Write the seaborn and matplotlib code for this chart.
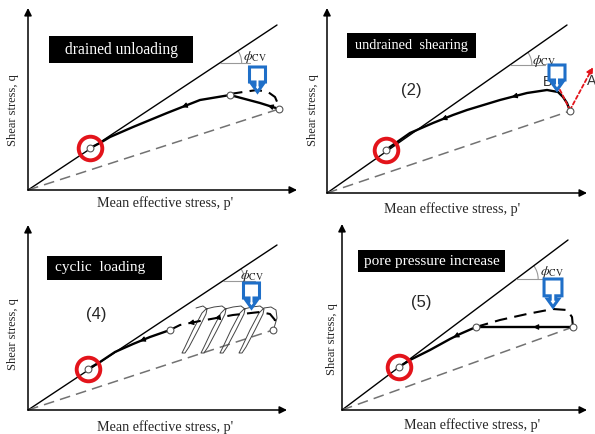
import numpy as np
import pandas as pd
import matplotlib
matplotlib.use("Agg")
import matplotlib.pyplot as plt
from matplotlib.patches import Arc, Polygon, Rectangle
import seaborn as sns

# --- data (p', q in pixel-like units, origin at axes corner) ---
# panel 1: drained unloading
csl1 = [(0, 0), (249, 165)]
ref1 = [(0, 0), (251, 81)]
solid1_x = [251, 232, 202, 172, 139, 105, 82, 72, 62]
solid1_y = [81, 87, 95, 90, 77, 63, 53, 47, 42]
dash1_x = [202, 215, 229, 240, 247, 250, 251]
dash1_y = [96, 98, 100, 98, 93, 86, 81]
pts1_x = [202, 251]
pts1_y = [95, 81]
fail1 = (62, 42)

# panel 2: undrained shearing
csl2 = [(0, 0), (240, 168)]
ref2 = [(0, 0), (243, 82)]
solid2_x = [243, 240, 236, 231, 220, 200, 173, 140, 126, 106, 83, 73, 63, 59]
solid2_y = [82, 90, 96, 101, 103, 100, 93, 83, 78, 70, 60, 53, 46, 43]
pts2_x = [243]
pts2_y = [82]
fail2 = (59, 43)
pathA = [(243, 83), (266, 126)]
pathB = [(243, 83), (224, 121)]

# panel 3: cyclic loading
csl3 = [(0, 0), (249, 165)]
ref3 = [(0, 0), (245, 80)]
solid3_x = [142, 122, 105, 87, 72, 60]
solid3_y = [80, 73, 66, 58, 48, 41]
dash3_x = [142, 152, 172, 205, 232, 242, 247, 245]
dash3_y = [80, 85, 89, 95, 98, 96, 90, 80]
loop_x = [246, 249, 248, 243, 236, 231, 222, 214, 211, 214, 218, 227, 235, 236, 232, 224,
          216, 212, 203, 195, 192, 195, 199, 208, 216, 217, 213, 205, 197, 193, 184, 176,
          173, 176, 180, 189, 197, 198, 194, 186, 178, 174, 165, 157, 154, 157, 161, 170,
          178, 179, 175, 168]
loop_y = [82, 92, 100, 103, 102, 97, 80, 63, 57, 57, 63, 80, 96, 101, 104, 103,
          101, 97, 80, 63, 57, 57, 63, 80, 96, 101, 104, 103, 101, 97, 80, 63,
          57, 57, 63, 80, 96, 101, 104, 103, 101, 97, 80, 63, 57, 57, 63, 80,
          96, 101, 104, 102]
pts3_x = [142, 245]
pts3_y = [80, 80]
fail3 = (60, 41)

# panel 4: pore pressure increase
csl4 = [(0, 0), (226, 170)]
ref4 = [(0, 0), (231, 83)]
solid4_x = [231, 191, 134, 118, 108, 88, 68, 57]
solid4_y = [83, 83, 83, 76, 71, 60, 50, 43]
dash4_x = [134, 158, 185, 211, 225, 230, 231]
dash4_y = [83, 90, 96, 101, 100, 93, 83]
pts4_x = [134, 231]
pts4_y = [83, 83]
fail4 = (57, 43)

titles = ["drained unloading", "undrained  shearing", "cyclic  loading", "pore pressure increase"]
title_sizes = [11.2, 10.4, 11.0, 11.0]
tags = [None, "(2)", "(4)", "(5)"]

sns.set_theme(style="white")
plt.rcParams['font.family'] = ['Liberation Serif', 'DejaVu Serif']
plt.rcParams['mathtext.fontset'] = 'stix'

W, H = 595, 434
fig = plt.figure(figsize=(W / 100, H / 100), dpi=100)

# panel layout: (left px, top px, width, height, origin x, origin y) in figure pixels
layout = [
    (0, 0, 300, 217, 28, 190),
    (300, 0, 295, 217, 27, 193),
    (0, 217, 300, 217, 28, 193),
    (300, 217, 295, 217, 42, 193),
]

RED = "#e3141b"
BLUE = "#1f6fc8"
GRAY = "#727272"


def make_ax(i):
    l, t, w, h, ox, oy = layout[i]
    ax = fig.add_axes([l / W, 1 - (t + h) / H, w / W, h / H])
    ax.set_xlim(-ox, w - ox)
    ax.set_ylim(-(h - oy), oy)
    ax.axis("off")
    return ax


def axes_arrows(ax, xtip, ytip):
    kw = dict(arrowstyle="-|>", color="black", lw=1.1, mutation_scale=11, shrinkA=0, shrinkB=0)
    ax.annotate("", xy=(xtip, 0), xytext=(0, 0), arrowprops=kw)
    ax.annotate("", xy=(0, ytip), xytext=(0, 0), arrowprops=kw)


def base_lines(ax, csl, ref):
    c = pd.DataFrame(csl, columns=["p", "q"])
    r = pd.DataFrame(ref, columns=["p", "q"])
    sns.lineplot(data=c, x="p", y="q", ax=ax, color="black", lw=1.0, sort=False, estimator=None)
    sns.lineplot(data=r, x="p", y="q", ax=ax, color=GRAY, lw=1.1, linestyle=(0, (7, 4)),
                 sort=False, estimator=None)


def path(ax, xs, ys, dashed=False, lw=1.7, color="black"):
    df = pd.DataFrame({"p": xs, "q": ys})
    ls = (0, (6, 3.5)) if dashed else "-"
    sns.lineplot(data=df, x="p", y="q", ax=ax, color=color, lw=lw, linestyle=ls,
                 sort=False, estimator=None)


def flow_arrow(ax, xs, ys, i, frac=0.5):
    x0, y0, x1, y1 = xs[i], ys[i], xs[i + 1], ys[i + 1]
    mx, my = x0 + frac * (x1 - x0), y0 + frac * (y1 - y0)
    d = np.hypot(x1 - x0, y1 - y0)
    ux, uy = (x1 - x0) / d, (y1 - y0) / d
    ax.annotate("", xy=(mx + 2 * ux, my + 2 * uy), xytext=(mx - 2 * ux, my - 2 * uy),
                arrowprops=dict(arrowstyle="-|>", color="black", lw=0.8, mutation_scale=8,
                                shrinkA=0, shrinkB=0))


def markers(ax, xs, ys, fail):
    ax.scatter(xs, ys, s=24, facecolor="white", edgecolor="#555555", linewidth=0.8, zorder=5)
    ax.scatter([fail[0]], [fail[1]], s=24, facecolor="white", edgecolor="#555555", linewidth=0.8, zorder=5)
    ax.plot([fail[0]], [fail[1]], marker="o", ms=17, mfc="none", mec=RED, mew=2.8, zorder=6)


def phi(ax, slope, yh, length, lx, ly):
    xh = yh / slope
    ax.plot([xh, xh + length], [yh, yh], color="#999999", lw=0.8)
    ang = np.degrees(np.arctan(slope))
    ax.add_patch(Arc((xh, yh), 44, 44, theta1=0, theta2=ang, color="#999999", lw=0.8))
    ax.text(lx, ly, r"$\phi_{\mathrm{CV}}$", fontsize=10, ha="left", va="center", color="#222222")


def blue_arrow(ax, cx, top, s=1.0):
    shape = [(-8, 0), (8, 0), (8, -15), (2.5, -15), (2.5, -18), (5, -18), (0, -25),
             (-5, -18), (-2.5, -18), (-2.5, -15), (-8, -15)]
    verts = [(cx + s * a, top + s * b) for a, b in shape]
    ax.add_patch(Polygon(verts, closed=True, facecolor="white", edgecolor=BLUE, lw=2.2,
                         joinstyle="miter", zorder=7))


def title_box(ax, x0, x1, y0, y1, text, size, tx=None):
    ax.add_patch(Rectangle((x0, y0), x1 - x0, y1 - y0, facecolor="black", edgecolor="none", zorder=3))
    if tx is None:
        ax.text((x0 + x1) / 2, (y0 + y1) / 2, text, color="white", fontsize=size,
                ha="center", va="center", zorder=4)
    else:
        ax.text(tx, (y0 + y1) / 2, text, color="white", fontsize=size,
                ha="left", va="center", zorder=4)


def labels(ax, xl, yl):
    ax.text(xl[0], xl[1], "Mean effective stress, p'", fontsize=10.2, ha="center", va="center")
    ax.text(yl[0], yl[1], "Shear stress, q", fontsize=9, ha="center", va="center", rotation=90)


# ---- panel 1 ----
ax = make_ax(0)
axes_arrows(ax, 269, 182)
base_lines(ax, csl1, ref1)
path(ax, solid1_x, solid1_y)
path(ax, dash1_x, dash1_y, dashed=True, lw=1.5)
flow_arrow(ax, solid1_x, solid1_y, 0)
flow_arrow(ax, solid1_x, solid1_y, 3)
markers(ax, pts1_x, pts1_y, fail1)
phi(ax, 165 / 249, 127, 30, 215, 133)
blue_arrow(ax, 229.5, 123)
title_box(ax, 21, 165, 127, 154, titles[0], title_sizes[0])
labels(ax, (137, -13), (-15, 80))

# ---- panel 2 ----
ax = make_ax(1)
axes_arrows(ax, 260, 185)
base_lines(ax, csl2, ref2)
path(ax, solid2_x, solid2_y)
flow_arrow(ax, solid2_x, solid2_y, 5)
flow_arrow(ax, solid2_x, solid2_y, 8)
for pr in (pathA, pathB):
    ax.annotate("", xy=pr[1], xytext=pr[0],
                arrowprops=dict(arrowstyle="-|>", color=RED, lw=1.3, linestyle=(0, (2, 1.5)),
                                mutation_scale=9, shrinkA=0, shrinkB=0))
ax.text(260, 112, "A", fontsize=10, family="Liberation Sans", color="#333333", ha="left", va="center")
ax.text(220, 111, "B", fontsize=10, family="Liberation Sans", color="#333333", ha="center", va="center")
markers(ax, pts2_x, pts2_y, fail2)
phi(ax, 168 / 240, 128, 35, 205, 132)
blue_arrow(ax, 230, 128)
title_box(ax, 20, 149, 135, 160, titles[1], title_sizes[1])
ax.text(84, 103, tags[1], fontsize=12, family="Liberation Sans", ha="center", va="center")
labels(ax, (125, -16), (-14, 83))

# ---- panel 3 ----
ax = make_ax(2)
axes_arrows(ax, 259, 185)
base_lines(ax, csl3, ref3)
path(ax, loop_x, loop_y, lw=0.7, color="#444444")
path(ax, solid3_x, solid3_y)
path(ax, dash3_x, dash3_y, dashed=True, lw=1.5)
flow_arrow(ax, solid3_x, solid3_y, 1)
flow_arrow(ax, dash3_x[::-1], dash3_y[::-1], 4)
flow_arrow(ax, dash3_x[::-1], dash3_y[::-1], 5)
markers(ax, pts3_x, pts3_y, fail3)
phi(ax, 165 / 249, 129, 32, 212, 134)
blue_arrow(ax, 223.5, 127)
title_box(ax, 19, 134, 130, 154, titles[2], title_sizes[2], tx=27)
ax.text(68, 95, tags[2], fontsize=12, family="Liberation Sans", ha="center", va="center")
labels(ax, (137, -17), (-15, 76))

# ---- panel 4 ----
ax = make_ax(3)
axes_arrows(ax, 245, 186)
base_lines(ax, csl4, ref4)
path(ax, solid4_x, solid4_y)
path(ax, dash4_x, dash4_y, dashed=True, lw=1.5)
flow_arrow(ax, solid4_x, solid4_y, 0, frac=0.95)
flow_arrow(ax, solid4_x, solid4_y, 3)
markers(ax, pts4_x, pts4_y, fail4)
phi(ax, 170 / 226, 131, 28, 198, 138)
blue_arrow(ax, 211, 131, s=1.12)
title_box(ax, 16, 163, 138, 160, titles[3], title_sizes[3])
ax.text(79, 108, tags[3], fontsize=12, family="Liberation Sans", ha="center", va="center")
labels(ax, (130, -15), (-10, 71))

fig.savefig("out.png", dpi=100, facecolor="white")
